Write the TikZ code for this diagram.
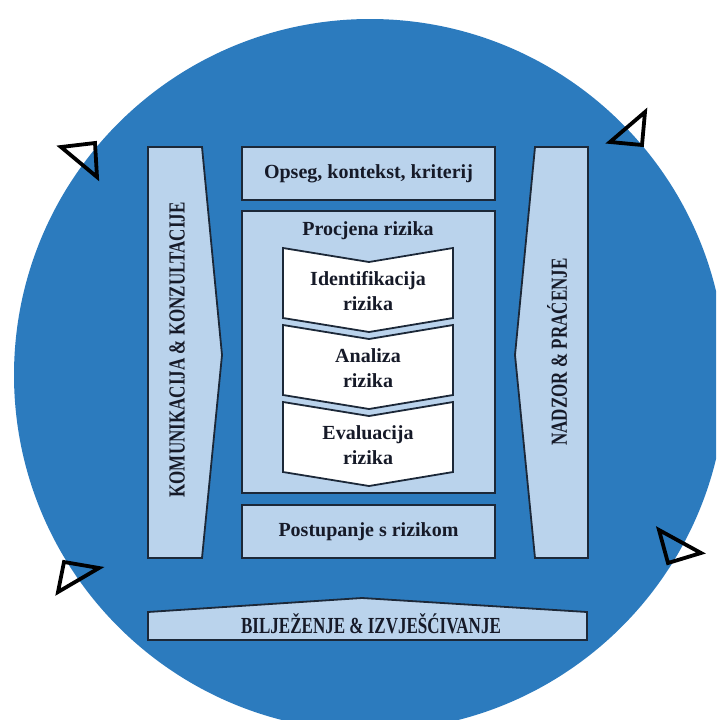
\documentclass[tikz,border=0pt]{standalone}
\usepackage{fontspec}
\setmainfont{Liberation Serif}
\newfontfamily\narrowfont[FakeStretch=0.74]{Liberation Serif}
\usepackage{tikz}

\definecolor{discblue}{RGB}{44,123,190}
\definecolor{boxblue}{RGB}{186,211,236}
\definecolor{edgenavy}{RGB}{28,40,56}
\definecolor{inknavy}{RGB}{22,26,40}

\begin{document}
\begin{tikzpicture}
  [x=1pt,y=-1pt,
   panel/.style={draw=edgenavy,fill=boxblue,line width=1.8pt,line join=miter},
   chevron/.style={draw=edgenavy,fill=white,line width=1.8pt},
   marker/.style={draw=black,line width=3.8pt,line join=miter},
   every node/.style={text=inknavy,font=\bfseries\fontsize{20}{25}\selectfont,align=center,inner sep=0pt},
   caps/.style={font=\narrowfont\bfseries\fontsize{23}{26}\selectfont}]
  \useasboundingbox (0,0) rectangle (716,720);
  \clip (0,0) rectangle (716,720);
  \fill[discblue] (370,375) circle [radius=356pt];
  % turning marks round the disc
  \draw[marker] (61,147) -- (95,143) -- (97,177) -- cycle;
  \draw[marker] (610,142) -- (645,112) -- (642,145) -- cycle;
  \draw[marker] (659,530) -- (701,553) -- (668,563) -- cycle;
  \draw[marker] (58,592) -- (99,568) -- (64,562) -- cycle;
  % side and bottom banners
  \draw[panel] (148,147) -- (202,147) -- (222,355) -- (202,558) -- (148,558) -- cycle;
  \draw[panel] (535,147) -- (588,147) -- (588,558) -- (535,558) -- (515,355) -- cycle;
  \draw[panel] (148,612) -- (362,598) -- (587,612) -- (587,640) -- (148,640) -- cycle;
  \node[caps,rotate=90] (consult) at (177,350) {KOMUNIKACIJA \& KONZULTACIJE};
  \node[caps,rotate=90] (monitor) at (557,352) {NADZOR \& PRAĆENJE};
  \node[caps] (record) at (371,624) {BILJEŽENJE \& IZVJEŠĆIVANJE};
  % middle column
  \node[panel,minimum width=253pt,minimum height=53pt] (scope) at (368.5,173.5) {Opseg, kontekst, kriterij};
  \node[panel,minimum width=253pt,minimum height=282pt] (assess) at (368.5,352) {};
  \node (assesstitle) at (368,231) {Procjena rizika};
  \foreach \top/\name/\txt in {248/identify/{Identifikacija\\rizika},325/analyse/{Analiza\\rizika},402/evaluate/{Evaluacija\\rizika}}
  {
    \draw[chevron] (283,\top) -- (369,\top+14) -- (453,\top) -- (453,\top+70) -- (369,\top+84) -- (283,\top+70) -- cycle;
    \node (\name) at (368,\top+43) {\txt};
  }
  \node[panel,minimum width=253pt,minimum height=53pt] (treat) at (368.5,531.5) {Postupanje s rizikom};
\end{tikzpicture}
\end{document}
